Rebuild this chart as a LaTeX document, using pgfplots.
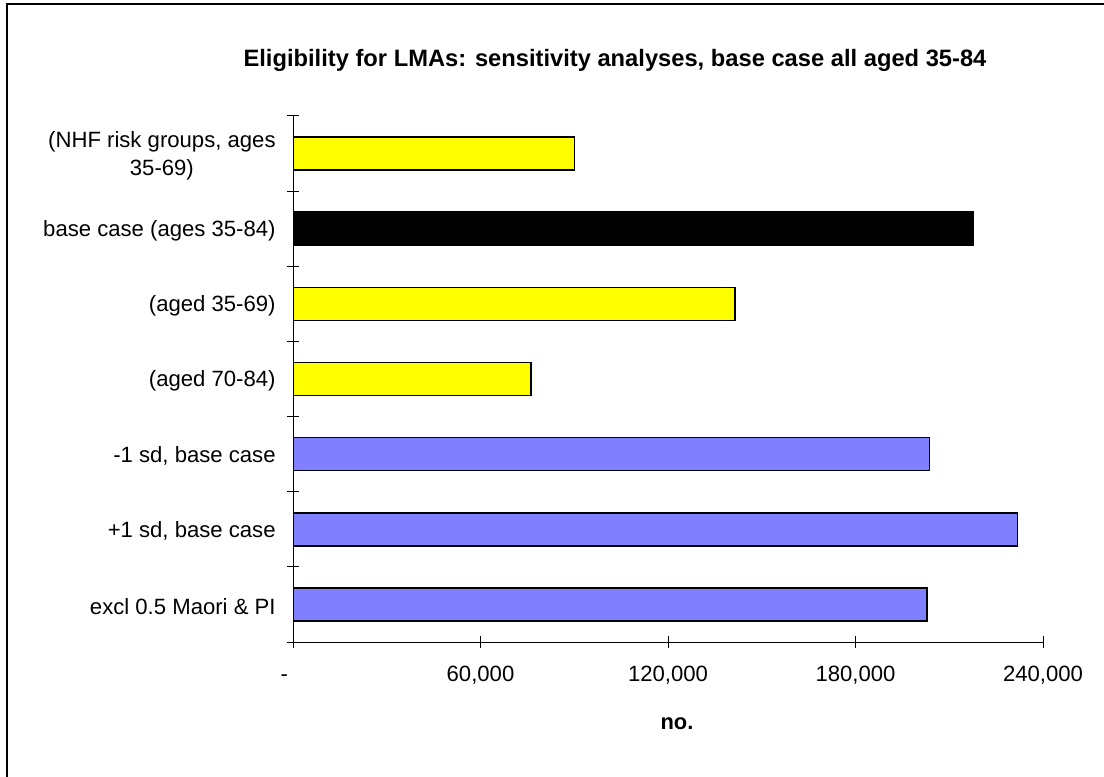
\documentclass[border=0pt]{standalone}
\usepackage{fontspec}
\setmainfont{Liberation Sans}
\usepackage{pgfplots}
\pgfplotsset{compat=1.18}
\definecolor{barYellow}{HTML}{FFFF00}
\definecolor{barBlue}{HTML}{8080FF}

\begin{document}
\begin{tikzpicture}[x=1bp,y=1bp]
\useasboundingbox (0,0) rectangle (552,388);
% page frame
\draw[line width=0.6bp] (3.5,-5) -- (3.5,386) -- (560,386);
% chart title
\node[font=\bfseries\fontsize{11.9}{14}\selectfont] at (307.5,358)
  {Eligibility for LMAs: sensitivity analyses, base case all aged 35-84};
\begin{axis}[
  at={(146.5bp,67bp)}, anchor=south west,
  scale only axis, width=375bp, height=263bp,
  xbar, bar width=16.5bp, bar shift=0pt,
  xmin=0, xmax=240000, ymin=-0.5, ymax=6.5,
  scaled x ticks=false,
  axis lines=left, axis line style={-, line width=0.5bp},
  tick align=center, major tick length=6bp,
  tick style={black, line width=0.5bp},
  xtick={0,60000,120000,180000,240000},
  xticklabels={\llap{-\hspace{2.5bp}}, {60,000}, {120,000}, {180,000}, {240,000}},
  xticklabel style={anchor=base, yshift=-16.5bp, font=\fontsize{11.1}{13}\selectfont},
  ytick={-0.5,0.5,1.5,2.5,3.5,4.5,5.5,6.5},
  y tick label as interval,
  yticklabels={excl 0.5 Maori \& PI, {+1 sd, base case}, {-1 sd, base case},
    (aged 70-84), (aged 35-69), base case (ages 35-84),
    {(NHF risk groups, ages\\[0.5bp]35-69)}},
  yticklabel style={align=center, anchor=east, inner sep=0pt, xshift=-5.5bp,
    yshift=-1bp, font=\fontsize{11.1}{13.5}\selectfont},
  xlabel={no.},
  xlabel style={at={(axis description cs:0.512,0)}, anchor=center,
    yshift=-41bp, font=\bfseries\fontsize{11}{13}\selectfont},
  every axis plot/.append style={draw=black, line width=0.75bp},
]
% sub-groups (yellow)
\addplot[fill=barYellow] coordinates {(90100,6) (141500,4) (76200,3)};
% base case (black)
\addplot[fill=black] coordinates {(217700,5)};
% sensitivity variants (blue)
\addplot[fill=barBlue] coordinates {(203600,2) (231800,1) (202800,0)};
\end{axis}
\end{tikzpicture}
\end{document}
